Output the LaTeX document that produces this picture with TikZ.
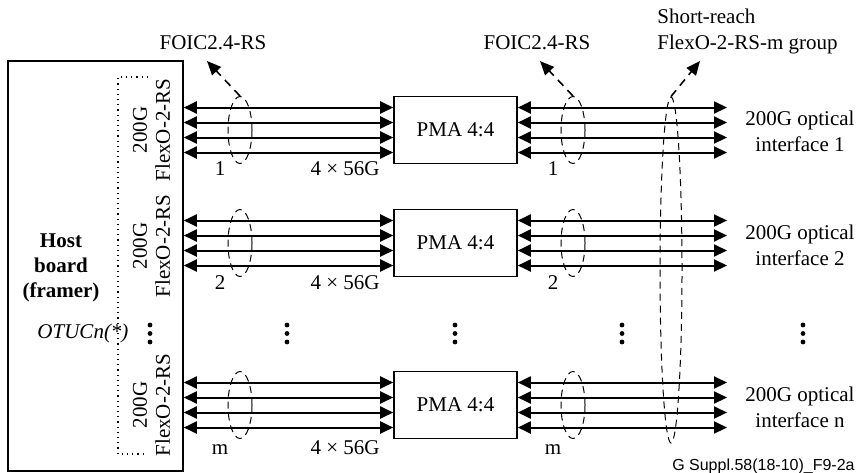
\documentclass[tikz,border=0pt]{standalone}
\usepackage{fontspec}
\setmainfont{Liberation Serif}
\newfontfamily\tagfont{Liberation Sans}
\usepackage{tikz}
\usetikzlibrary{arrows.meta,positioning,calc,shapes.geometric}

\tikzset{
  lane/.style={line width=1pt,{Triangle[length=6.5pt,width=6pt]}-{Triangle[length=6.5pt,width=6pt]}},
  box/.style={draw,line width=0.8pt,inner sep=0pt},
  bundle/.style={draw,ellipse,dash pattern=on 3.5pt off 2.5pt,line width=0.5pt,inner sep=0pt},
  callout/.style={line width=0.8pt,dash pattern=on 4pt off 3pt,-{Triangle[length=7pt,width=6pt]}},
}

\begin{document}
\begin{tikzpicture}[x=0.5pt,y=-0.5pt]
    \fontsize{10.5}{13}\selectfont
    \useasboundingbox (0,0) rectangle (860,472);
    % host board
    \node[box,minimum width=87.5pt,minimum height=205pt] (host) at (95.5,266) {};
    \node[font=\fontsize{10.5}{12.5}\selectfont\bfseries,align=center] (hosttxt) at (61,268) {Host\\board\\(framer)};
    \draw[dotted,line width=0.6pt] (148,77) -- (118,77) -- (118,454) -- (147,454);
    \node[font=\itshape] (otu) at (83,333) {OTUCn(*)};

    % one row per 200G interface
    \foreach \g/\yc/\fy/\num/\idx/\oy/\by in {1/130/130/1/1/131/175, 2/243/246/2/2/245/289, 3/405/405/m/n/407/454} {
        \node[box,minimum width=61.5pt,minimum height=33.5pt] (pma\g) at (455.5,\yc) {PMA 4:4};
        \node[rotate=90,align=center,font=\fontsize{10.5}{11.5}\selectfont] (flex\g) at (151.5,\fy) {200G\\FlexO-2-RS};
        \node[align=center] (opt\g) at (800,\oy) {200G optical\\interface \idx};
        \coordinate (end\g) at (727,\yc);
        \foreach \k in {-1.5,-0.5,0.5,1.5} {
            \coordinate (l) at ($(pma\g.west)+(0,\k*15)$);
            \coordinate (r) at ($(pma\g.east)+(0,\k*15)$);
            \draw[lane] (host.east |- l) -- (l);
            \draw[lane] (r) -- (r -| end\g);
        }
        \node[bundle,minimum width=12pt,minimum height=33.5pt] (inL\g) at (240,\yc) {};
        \node[bundle,minimum width=12pt,minimum height=33.5pt] (inR\g) at (573,\yc) {};
        \node[anchor=base] (nL\g) at (220,\by) {\num};
        \node[anchor=base] (rate\g) at (345,\by) {4 × 56G};
        \node[anchor=base] (nR\g) at (553,\by) {\num};
    }

    % short-reach group
    \node[bundle,minimum width=11pt,minimum height=173pt] (grpall) at (671,270) {};

    % callouts
    \node (foicL) at (213,43) {FOIC2.4-RS};
    \node (foicR) at (537,43) {FOIC2.4-RS};
    \node[align=left,anchor=west] (srtxt) at (650,31) {Short-reach\\FlexO-2-RS-m group};
    \coordinate (tipL) at (207,61);
    \coordinate (tipR) at (540,61);
    \coordinate (tipS) at (700,61);
    \draw[callout] (inL1.north) -- (tipL);
    \draw[callout] (inR1.north) -- (tipR);
    \draw[callout] (grpall.north) -- (tipS);

    % vertical dots
    \foreach \x in {150,287,455,622,803}
        \foreach \y in {325,333.5,342}
            \fill (\x,\y) circle (1.2pt);

    \node[font=\tagfont\fontsize{8}{9.6}\selectfont,anchor=east,inner sep=1pt] (figid) at (857,466) {G Suppl.58(18-10)\_F9-2a};
\end{tikzpicture}
\end{document}
